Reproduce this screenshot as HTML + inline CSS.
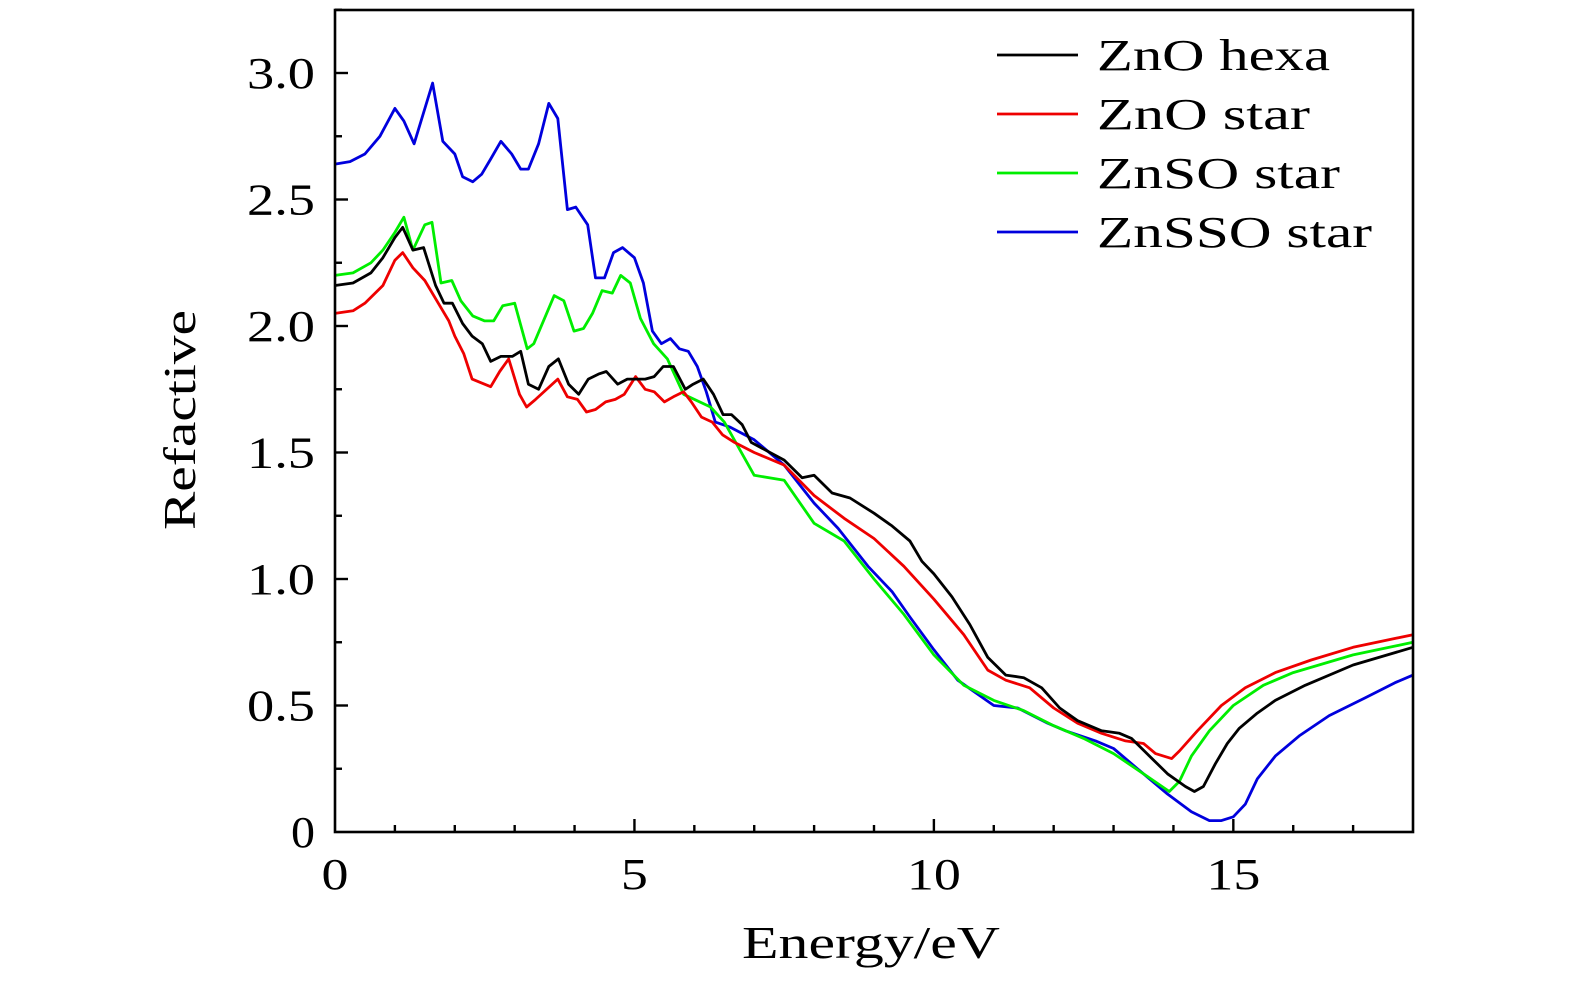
<!DOCTYPE html>
<html><head><meta charset="utf-8">
<style>
html,body{margin:0;padding:0;background:#fff;}
svg{display:block;}
text{font-family:"Liberation Serif",serif;fill:#000;}
</style></head>
<body>
<svg id="chart" width="1575" height="984">
<g id="plot"></g>
<rect x="335" y="10" width="1078" height="822" fill="none" stroke="#000" stroke-width="2.6"/>
<g id="axes"></g>
<text x="195" y="420" font-size="46" text-anchor="middle" textLength="220" lengthAdjust="spacingAndGlyphs" transform="rotate(-90 195 420)">Refactive</text>
<text x="871" y="958" font-size="46" text-anchor="middle" textLength="258" lengthAdjust="spacingAndGlyphs">Energy/eV</text>
<g id="legend"></g>
</svg>
<script>
const xTicks = [0, 5, 10, 15];
const yTicks = [0, 0.5, 1.0, 1.5, 2.0, 2.5, 3.0];
const yTickLabels = ["0", "0.5", "1.0", "1.5", "2.0", "2.5", "3.0"];
const seriesNames = ["ZnO hexa", "ZnO star", "ZnSO star", "ZnSSO star"];
const seriesColors = ["#000000", "#ee0000", "#00ee00", "#0000dd"];

const hexaE = [0,0.3,0.6,0.8,1.0,1.13,1.3,1.48,1.68,1.82,1.96,2.13,2.29,2.46,2.6,2.77,2.96,3.1,3.23,3.4,3.57,3.73,3.9,4.07,4.23,4.4,4.53,4.72,4.88,5.18,5.33,5.48,5.65,5.85,5.98,6.15,6.32,6.48,6.62,6.8,6.95,7.5,7.8,8.0,8.3,8.6,9.0,9.3,9.6,9.8,10.0,10.3,10.6,10.9,11.2,11.5,11.8,12.1,12.4,12.8,13.1,13.3,13.6,13.9,14.2,14.35,14.5,14.7,14.9,15.1,15.4,15.7,16.2,17.0,18.0];
const hexaN = [2.16,2.17,2.21,2.27,2.35,2.39,2.30,2.31,2.16,2.09,2.09,2.01,1.96,1.93,1.86,1.88,1.88,1.90,1.77,1.75,1.84,1.87,1.77,1.73,1.79,1.81,1.82,1.77,1.79,1.79,1.80,1.84,1.84,1.75,1.77,1.79,1.73,1.65,1.65,1.61,1.54,1.47,1.40,1.41,1.34,1.32,1.26,1.21,1.15,1.07,1.02,0.93,0.82,0.69,0.62,0.61,0.57,0.49,0.44,0.40,0.39,0.37,0.30,0.23,0.18,0.16,0.18,0.27,0.35,0.41,0.47,0.52,0.58,0.66,0.73];

const znoE = [0,0.3,0.5,0.8,1.0,1.13,1.3,1.5,1.7,1.9,2.0,2.15,2.29,2.6,2.75,2.9,3.08,3.2,3.35,3.72,3.88,4.05,4.2,4.35,4.52,4.68,4.83,5.02,5.18,5.33,5.5,5.65,5.82,5.95,6.12,6.3,6.47,6.67,7.0,7.5,8.0,8.5,9.0,9.5,10.0,10.5,10.9,11.2,11.6,12.0,12.4,12.8,13.2,13.5,13.7,13.97,14.1,14.4,14.8,15.2,15.7,16.3,17.0,18.0];
const znoN = [2.05,2.06,2.09,2.16,2.26,2.29,2.23,2.18,2.10,2.02,1.96,1.89,1.79,1.76,1.82,1.87,1.73,1.68,1.71,1.79,1.72,1.71,1.66,1.67,1.70,1.71,1.73,1.80,1.75,1.74,1.70,1.72,1.74,1.70,1.64,1.62,1.57,1.54,1.50,1.45,1.33,1.24,1.16,1.05,0.92,0.78,0.64,0.60,0.57,0.49,0.43,0.39,0.36,0.35,0.31,0.29,0.32,0.40,0.50,0.57,0.63,0.68,0.73,0.78];

const znsoE = [0,0.3,0.6,0.8,1.0,1.15,1.3,1.5,1.62,1.77,1.95,2.1,2.3,2.5,2.65,2.8,3.0,3.21,3.32,3.66,3.82,3.99,4.15,4.3,4.46,4.63,4.77,4.93,5.1,5.32,5.55,5.82,6.27,6.5,7.0,7.5,8.0,8.5,9.0,9.5,10.0,10.5,11.0,11.5,12.0,12.5,13.0,13.5,13.93,14.1,14.3,14.6,15.0,15.5,16.0,17.0,18.0];
const znsoN = [2.20,2.21,2.25,2.30,2.37,2.43,2.30,2.40,2.41,2.17,2.18,2.10,2.04,2.02,2.02,2.08,2.09,1.91,1.93,2.12,2.10,1.98,1.99,2.05,2.14,2.13,2.20,2.17,2.03,1.93,1.87,1.73,1.68,1.62,1.41,1.39,1.22,1.15,1.00,0.86,0.70,0.58,0.52,0.48,0.42,0.37,0.31,0.23,0.16,0.20,0.30,0.40,0.50,0.58,0.63,0.70,0.75];

const zssoE = [0,0.25,0.5,0.75,1.0,1.15,1.32,1.63,1.8,2.0,2.13,2.3,2.45,2.6,2.77,2.95,3.1,3.23,3.4,3.57,3.72,3.88,4.02,4.22,4.35,4.5,4.65,4.8,5.0,5.15,5.3,5.45,5.6,5.75,5.9,6.05,6.2,6.35,6.6,7.0,7.5,8.0,8.4,8.9,9.3,9.6,10.0,10.4,10.7,11.0,11.4,11.9,12.2,12.7,13.0,13.4,13.9,14.3,14.6,14.8,15.0,15.2,15.4,15.7,16.1,16.6,17.2,17.7,18.0];
const zssoN = [2.64,2.65,2.68,2.75,2.86,2.81,2.72,2.96,2.73,2.68,2.59,2.57,2.60,2.66,2.73,2.68,2.62,2.62,2.72,2.88,2.82,2.46,2.47,2.40,2.19,2.19,2.29,2.31,2.27,2.17,1.98,1.93,1.95,1.91,1.90,1.84,1.74,1.62,1.60,1.55,1.45,1.30,1.20,1.05,0.95,0.85,0.72,0.60,0.55,0.50,0.49,0.43,0.40,0.36,0.33,0.25,0.15,0.08,0.045,0.045,0.06,0.11,0.21,0.30,0.38,0.46,0.53,0.59,0.62];

const seriesE = [hexaE, znoE, znsoE, zssoE];
const seriesN = [hexaN, znoN, znsoN, zssoN];

const NS = "http://www.w3.org/2000/svg";
const X0 = 335, X1 = 1413, Y0 = 832, YT = 73;
function xs(e){ return X0 + (e - 0) / 18 * (X1 - X0); }
function ys(v){ return Y0 - v / 3.0 * (Y0 - YT); }

const plot = document.getElementById('plot');
const axes = document.getElementById('axes');
const legend = document.getElementById('legend');

const order = [3, 2, 1, 0];
order.forEach(i => {
  const p = document.createElementNS(NS, 'polyline');
  p.setAttribute('points', seriesE[i].map((e, k) => xs(e).toFixed(1) + ',' + ys(seriesN[i][k]).toFixed(1)).join(' '));
  p.setAttribute('fill', 'none');
  p.setAttribute('stroke', seriesColors[i]);
  p.setAttribute('stroke-width', '2.8');
  p.setAttribute('stroke-linejoin', 'round');
  
  
  plot.appendChild(p);
});

function line(x1, y1, x2, y2, name){
  const l = document.createElementNS(NS, 'line');
  l.setAttribute('x1', x1); l.setAttribute('y1', y1);
  l.setAttribute('x2', x2); l.setAttribute('y2', y2);
  l.setAttribute('stroke', '#000'); l.setAttribute('stroke-width', '2.4');
  
  
  axes.appendChild(l);
}
function txt(x, y, s, anchor, name, parent, size, len){
  const t = document.createElementNS(NS, 'text');
  t.setAttribute('x', x); t.setAttribute('y', y);
  t.setAttribute('font-size', size || 44);
  t.setAttribute('text-anchor', anchor);
  if (len) { t.setAttribute('textLength', len); t.setAttribute('lengthAdjust', 'spacingAndGlyphs'); }
  t.textContent = s;
  
  
  parent.appendChild(t);
}
for (let e = 1; e < 18; e++) {
  const major = e % 5 === 0;
  line(xs(e), Y0, xs(e), Y0 - (major ? 13 : 7), major ? 'x-major-tick' : 'x-minor-tick');
}
xTicks.forEach(e => txt(xs(e), 889, String(e), 'middle', 'x-tick-label', axes, 44, String(e).length * 27));
for (let k = 1; k <= 13; k++) {
  const v = k * 0.25;
  const major = k % 2 === 0;
  line(X0, ys(v), X0 + (major ? 13 : 7), ys(v), major ? 'y-major-tick' : 'y-minor-tick');
}
yTicks.forEach((v, i) => txt(315, ys(v) + 15, yTickLabels[i], 'end', 'y-tick-label', axes, 44, yTickLabels[i].length === 1 ? 24 : 68));

const legendLens = [233, 213, 243, 275];
seriesNames.forEach((n, i) => {
  const y = 55 + i * 59;
  const l = document.createElementNS(NS, 'line');
  l.setAttribute('x1', 997); l.setAttribute('x2', 1078);
  l.setAttribute('y1', y); l.setAttribute('y2', y);
  l.setAttribute('stroke', seriesColors[i]); l.setAttribute('stroke-width', '2.8');
  
  
  legend.appendChild(l);
  txt(1097, y + 15, n, 'start', 'legend-entry', legend, 44, legendLens[i]);
});
</script>
</body></html>
